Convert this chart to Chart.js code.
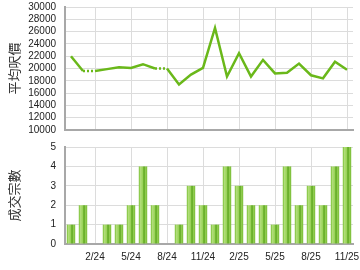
<!DOCTYPE html>
<html>
<head>
<meta charset="utf-8">
<script src="https://cdn.jsdelivr.net/npm/chart.js@4/dist/chart.umd.min.js"></script>
<style>
  body { margin: 0; background: #fff; }
  #wrap { position: relative; width: 360px; height: 270px; }
  canvas { position: absolute; left: 0; }
</style>
</head>
<body>
<div id="wrap">
  <canvas id="priceChart" width="360" height="135" style="top:0"></canvas>
  <canvas id="countChart" width="360" height="135" style="top:135px"></canvas>
</div>
<script>
const months = ['12/23','1/24','2/24','3/24','4/24','5/24','6/24','7/24','8/24','9/24','10/24','11/24',
                '12/24','1/25','2/25','3/25','4/25','5/25','6/25','7/25','8/25','9/25','10/25','11/25'];
// average price per sq ft (months without deals carry the previous value)
const avgPrice = [22000,19600,19600,19900,20200,20100,20700,20000,20000,17400,19000,20100,
                  26600,18700,22500,18700,21400,19200,19300,20800,18900,18400,21100,19800];
const dealCount = [1,2,0,1,1,2,4,2,0,1,3,2,1,4,3,2,2,1,4,2,3,2,4,5];
const tickLabels = ['2/24','5/24','8/24','11/24','2/25','5/25','8/25','11/25'];

const tickFont = { family: 'Liberation Sans, Arial, sans-serif', size: 10 };
const titleFont = { family: 'Noto Sans CJK TC, sans-serif', size: 13 };
const gridCol = '#dcdcdc';
const axisCol = '#a8a8a8';
const lineCol = '#6ab81a';

const xGridColor = ctx => tickLabels.includes(months[ctx.index]) ? gridCol : 'rgba(0,0,0,0)';

function yAxisFit(scale) {
    scale.width = 65;
    scale.paddingTop = 0;
    scale.paddingBottom = 0;
}

function barFill(ctx) {
    const chart = ctx.chart;
    const xs = chart.scales.x;
    if (!xs || ctx.dataIndex === undefined) return '#8cc84b';
    const cx = xs.getPixelForValue(ctx.dataIndex);
    if (!isFinite(cx)) return '#8cc84b';
    const half = 4.2;
    const g = chart.ctx.createLinearGradient(cx - half, 0, cx + half, 0);
    g.addColorStop(0, '#76bf30');
    g.addColorStop(0.2, '#b0dd78');
    g.addColorStop(0.45, '#9ad35a');
    g.addColorStop(0.62, '#5aa51c');
    g.addColorStop(0.82, '#95cf55');
    g.addColorStop(1, '#72b82e');
    return g;
}

new Chart(document.getElementById('priceChart'), {
    type: 'line',
    data: {
        labels: months,
        datasets: [{
            data: avgPrice,
            borderColor: lineCol,
            borderWidth: 2.5,
            pointRadius: 0,
            tension: 0,
            segment: {
                borderDash: ctx => dealCount[ctx.p1DataIndex] === 0 ? [2, 2] : undefined
            }
        }]
    },
    options: {
        responsive: false,
        animation: false,
        layout: { padding: { top: 7, right: 7, bottom: 0, left: 0 } },
        plugins: { legend: { display: false }, tooltip: { enabled: false } },
        scales: {
            x: {
                offset: true,
                grid: { offset: false, color: xGridColor, drawTicks: false },
                border: { color: axisCol, width: 2 },
                ticks: { display: false, autoSkip: false },
                afterFit: s => { s.height = 5; s.paddingLeft = 0; s.paddingRight = 0; }
            },
            y: {
                min: 10000,
                max: 30000,
                grid: { color: gridCol, drawTicks: false },
                border: { color: axisCol, width: 2 },
                ticks: { stepSize: 2000, autoSkip: false, padding: 9, color: '#222', font: tickFont,
                         callback: v => String(v) },
                title: { display: true, text: '平均呎價', color: '#333', font: titleFont, padding: { top: 6, bottom: 0 } },
                afterFit: yAxisFit
            }
        }
    }
});

new Chart(document.getElementById('countChart'), {
    type: 'bar',
    data: {
        labels: months,
        datasets: [{
            data: dealCount,
            backgroundColor: barFill,
            borderWidth: 0,
            barPercentage: 0.7,
            categoryPercentage: 1
        }]
    },
    options: {
        responsive: false,
        animation: false,
        layout: { padding: { top: 12, right: 7, bottom: 0, left: 0 } },
        plugins: { legend: { display: false }, tooltip: { enabled: false } },
        scales: {
            x: {
                offset: true,
                grid: { offset: false, color: xGridColor, drawTicks: false },
                border: { color: axisCol, width: 2 },
                ticks: {
                    autoSkip: false,
                    maxRotation: 0,
                    padding: 7,
                    color: '#222',
                    font: tickFont,
                    callback: function (v, i) { return tickLabels.includes(months[i]) ? months[i] : ''; }
                },
                afterFit: s => { s.height = 26; s.paddingLeft = 0; s.paddingRight = 0; }
            },
            y: {
                min: 0,
                max: 5,
                grid: { color: gridCol, drawTicks: false },
                border: { color: axisCol, width: 2 },
                ticks: { stepSize: 1, autoSkip: false, padding: 9, color: '#222', font: tickFont },
                title: { display: true, text: '成交宗數', color: '#333', font: titleFont, padding: { top: 6, bottom: 0 } },
                afterFit: yAxisFit
            }
        }
    }
});
</script>
</body>
</html>
